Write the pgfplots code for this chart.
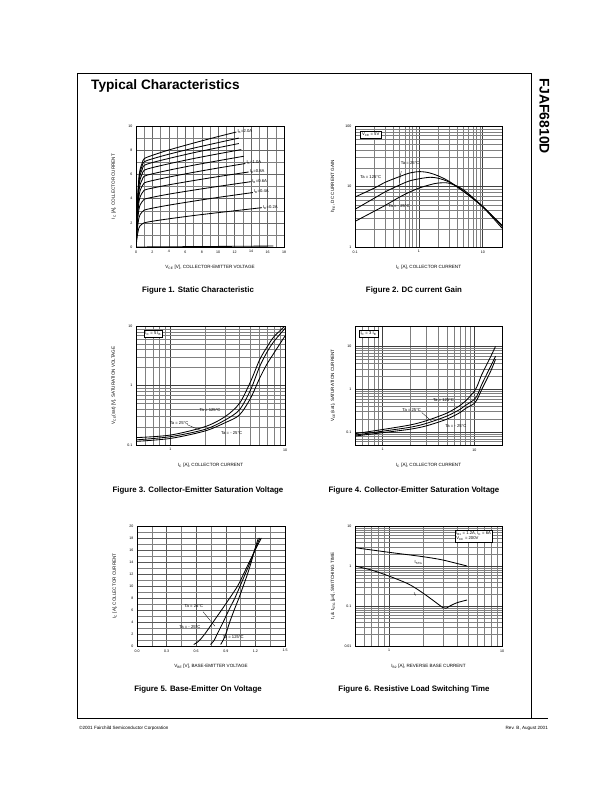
\documentclass[border=0pt]{standalone}
\usepackage{fontspec}
\setmainfont{Liberation Sans}
\usepackage{pgfplots}
\pgfplotsset{compat=1.18}

\newcommand\sub[1]{\textsubscript{#1}}
\newcommand\note{\fontsize{4.2}{5}\selectfont}
\pgfplotsset{
  sheet/.style={
    scale only axis, anchor=north west,
    axis line style={line width=0.9pt},
    grid=both,
    major grid style={line width=0.55pt, black!65},
    minor grid style={line width=0.4pt, black!50},
    major tick length=0pt, minor tick length=0pt,
    tick label style={font=\fontsize{3.6}{4}\selectfont},
    /pgf/number format/assume math mode=true,
    label style={font=\fontsize{4.6}{5}\selectfont},
    xlabel style={at={(axis description cs:0.5,-0.17)}, anchor=center},
    ylabel style={at={(axis description cs:-0.15,0.5)}, anchor=center},
    every axis plot post/.append style={black, solid, line width=0.85pt, mark=none, smooth},
  },
  logsheet/.style={sheet, log ticks with fixed point,
    major grid style={line width=0.75pt, black!75}},
}

\begin{document}
\begin{tikzpicture}
\path[fill=white, use as bounding box] (0,0) rectangle (612bp,-792bp);

% page frame and headings
\draw[line width=0.8pt] (77bp,-718bp) -- (77bp,-73bp) -- (531bp,-73bp) -- (531bp,-718bp);
\draw[line width=0.8pt] (77bp,-718bp) -- (548bp,-718bp);
\node[anchor=base west, font=\fontsize{13.7}{16}\selectfont\bfseries, inner sep=0] at (91bp,-89.5bp) {Typical Characteristics};
\node[rotate=-90, font=\fontsize{14}{16}\selectfont\bfseries, inner sep=0] at (544.5bp,-116bp) {FJAF6810D};
\node[anchor=base west, font=\fontsize{4.6}{5}\selectfont, inner sep=0] at (79bp,-729bp) {©2001 Fairchild Semiconductor Corporation};
\node[anchor=base east, font=\fontsize{4.6}{5}\selectfont, inner sep=0] at (548bp,-729bp) {Rev. B, August 2001};

\begin{scope}[every node/.style={font=\fontsize{7.9}{9}\selectfont\bfseries, inner sep=0}]
\node at (198bp,-290bp) {Figure 1. Static Characteristic};
\node at (414bp,-290bp) {Figure 2. DC current Gain};
\node at (198bp,-490bp) {Figure 3. Collector-Emitter Saturation Voltage};
\node at (414bp,-490bp) {Figure 4. Collector-Emitter Saturation Voltage};
\node at (198bp,-689bp) {Figure 5. Base-Emitter On Voltage};
\node at (414bp,-689bp) {Figure 6. Resistive Load Switching Time};
\end{scope}

% Figure 1
\begin{axis}[sheet, at={(136bp,-126bp)}, width=148bp, height=121bp,
  xmin=0, xmax=18, ymin=0, ymax=10,
  xtick distance=2, ytick distance=2, minor x tick num=1, minor y tick num=1,
  major grid style={line width=0.5pt, black!60},
  xlabel={V\sub{CE} [V], COLLECTOR-EMITTER VOLTAGE},
  ylabel={I\sub{C} [A], COLLECTOR CURRENT}]
\addplot coordinates {(0,0) (16.7,0.08)};
\addplot coordinates {(0,0) (0.1,0.6) (0.2,1.1) (0.35,1.56) (0.5,1.76) (0.75,1.9) (1,2.0) (2,2.13) (4,2.33) (7,2.6) (10,2.84) (15.3,3.25)};
\addplot coordinates {(0,0) (0.1,0.92) (0.2,1.68) (0.35,2.38) (0.5,2.68) (0.75,2.9) (1,3.05) (2,3.21) (4,3.46) (7,3.79) (10,4.1) (14.2,4.5)};
\addplot coordinates {(0,0) (0.1,1.19) (0.2,2.17) (0.35,3.08) (0.5,3.48) (0.75,3.75) (1,3.95) (2,4.11) (4,4.37) (7,4.7) (10,5.01) (14,5.4)};
\addplot coordinates {(0,0) (0.1,1.41) (0.2,2.59) (0.35,3.67) (0.5,4.14) (0.75,4.47) (1,4.7) (2,4.87) (4,5.14) (7,5.49) (10,5.82) (13.7,6.2)};
\addplot coordinates {(0,0) (0.1,1.59) (0.2,2.92) (0.35,4.13) (0.5,4.66) (0.75,5.04) (1,5.3) (2,5.49) (4,5.78) (7,6.17) (10,6.53) (13.3,6.9)};
\addplot coordinates {(0,0) (0.1,1.76) (0.2,3.22) (0.35,4.56) (0.5,5.15) (0.75,5.56) (1,5.85) (2,6.05) (4,6.35) (7,6.76) (10,7.13) (13.1,7.5)};
\addplot coordinates {(0,0) (0.1,1.91) (0.2,3.49) (0.35,4.95) (0.5,5.59) (0.75,6.03) (1,6.35) (2,6.56) (4,6.88) (7,7.31) (10,7.7) (12.8,8.05)};
\addplot coordinates {(0,0) (0.1,2.03) (0.2,3.71) (0.35,5.27) (0.5,5.94) (0.75,6.41) (1,6.75) (2,6.98) (4,7.32) (7,7.79) (10,8.21) (12.5,8.55)};
\addplot coordinates {(0,0) (0.1,2.12) (0.2,3.88) (0.35,5.5) (0.5,6.2) (0.75,6.7) (1,7.05) (2,7.29) (4,7.67) (7,8.17) (10,8.63) (12.5,9.0)};
\addplot coordinates {(0,0) (0.1,2.19) (0.2,4.02) (0.35,5.69) (0.5,6.42) (0.75,6.94) (1,7.3) (2,7.58) (4,8.02) (7,8.59) (10,9.13) (12.2,9.5)};
\begin{scope}[every node/.style={font=\note, anchor=west, inner sep=1pt}]
\node at (axis cs:12.2,9.55) {I\sub{B}=2.0A};
\node at (axis cs:13.3,6.95) {I\sub{B}=1.0A};
\node at (axis cs:13.7,6.25) {I\sub{B}=0.8A};
\node at (axis cs:14.0,5.45) {I\sub{B}=0.6A};
\node at (axis cs:14.2,4.55) {I\sub{B}=0.4A};
\node at (axis cs:15.3,3.3) {I\sub{B}=0.2A};
\end{scope}
\end{axis}

% Figure 2
\begin{loglogaxis}[logsheet, at={(355bp,-126bp)}, width=147bp, height=121bp,
  xmin=0.1, xmax=20, ymin=1, ymax=100,
  xlabel={I\sub{C} [A], COLLECTOR CURRENT},
  ylabel={h\sub{FE}, DC CURRENT GAIN}]
\addplot coordinates {(0.1,6.7) (0.2,9.4) (0.3,11.8) (0.5,14.6) (0.7,16.6) (1,17.6) (1.4,17.0) (2,15) (3,12.1) (5,8.3) (10,4.6) (20,2.3)};
\addplot coordinates {(0.1,4.2) (0.2,6.4) (0.3,8.2) (0.5,10.6) (0.7,12.3) (1,13.4) (1.5,14.2) (2,13.7) (3,11.8) (5,8.3) (10,4.7) (20,2.2)};
\addplot coordinates {(0.1,2.65) (0.2,3.9) (0.3,4.9) (0.5,6.7) (0.7,8.0) (1,9.4) (1.5,10.7) (2,11.4) (3,11.3) (5,8.8) (10,4.6) (20,2.05)};
\node[font=\note, draw, line width=0.3pt, fill=white, inner sep=1.5pt] at (rel axis cs:0.107,0.926) {V\sub{CE} = 5V};
\node[font=\note] at (rel axis cs:0.375,0.692) {Ta = 25°C};
\node[font=\note] at (rel axis cs:0.107,0.577) {Ta = 125°C};
\node[font=\note] at (rel axis cs:0.30,0.34) {Ta = - 25°C};
\draw[line width=0.3pt] (axis cs:0.53,18) -- (axis cs:0.49,11.4);
\end{loglogaxis}

% Figure 3
\begin{loglogaxis}[logsheet, at={(136bp,-326bp)}, width=149bp, height=119bp,
  xmin=0.5, xmax=10, ymin=0.1, ymax=10,
  xlabel={I\sub{C} [A], COLLECTOR CURRENT},
  ylabel={V\sub{CE}(sat) [V], SATURATION VOLTAGE}]
\addplot coordinates {(0.5,0.133) (1,0.147) (2,0.203) (3,0.30) (4,0.50) (5,1.16) (6,2.7) (7,4.5) (8,6.6) (10,10)};
\addplot coordinates {(0.5,0.122) (1,0.138) (2,0.183) (3,0.263) (4,0.39) (5,0.84) (6,2.07) (7,3.7) (8,5.5) (10,9.1)};
\addplot coordinates {(0.5,0.115) (1,0.129) (2,0.172) (3,0.237) (4,0.32) (5,0.61) (6,1.32) (7,2.34) (8,3.5) (10,6.8)};
\node[font=\note, draw, line width=0.3pt, fill=white, inner sep=1.5pt] at (rel axis cs:0.116,0.933) {I\sub{C} = 5 I\sub{B}};
\node[font=\note] at (rel axis cs:0.497,0.294) {Ta = 125°C};
\node[font=\note] at (rel axis cs:0.289,0.188) {Ta = 25°C};
\node[font=\note] at (rel axis cs:0.642,0.104) {Ta = - 25°C};
\draw[line width=0.3pt] (axis cs:1.4,0.22) -- (axis cs:1.8,0.178);
\end{loglogaxis}

% Figure 4
\begin{loglogaxis}[logsheet, at={(355bp,-326bp)}, width=147bp, height=119bp,
  xmin=0.5, xmax=20, ymin=0.05, ymax=30,
  xlabel={I\sub{C} [A], COLLECTOR CURRENT},
  ylabel={V\sub{CE}(sat), SATURATION CURRENT}]
\addplot coordinates {(0.5,0.092) (1,0.115) (2,0.147) (3,0.185) (5,0.277) (7,0.42) (8,0.53) (10,0.9) (11,1.35) (12,2.17) (15,5.7) (17,10)};
\addplot coordinates {(0.5,0.085) (1,0.105) (2,0.13) (3,0.16) (5,0.236) (7,0.342) (8,0.42) (10,0.58) (11,0.8) (12,1.28) (15,3.4) (17,5.9)};
\addplot coordinates {(0.5,0.081) (1,0.097) (2,0.117) (3,0.14) (5,0.2) (7,0.287) (8,0.355) (10,0.47) (11,0.65) (12,0.98) (15,2.6) (17,5.0)};
\node[font=\note, draw, line width=0.3pt, fill=white, inner sep=1.5pt] at (rel axis cs:0.091,0.933) {I\sub{C} = 3 I\sub{B}};
\node[font=\note] at (rel axis cs:0.602,0.378) {Ta = 125°C};
\node[font=\note] at (rel axis cs:0.386,0.294) {Ta = 25°C};
\node[font=\note] at (rel axis cs:0.686,0.16) {Ta = - 25°C};
\draw[line width=0.3pt] (axis cs:2.67,0.287) -- (axis cs:3.5,0.172);
\end{loglogaxis}

% Figure 5
\begin{axis}[sheet, at={(137bp,-526bp)}, width=148bp, height=120bp,
  xmin=0, xmax=1.5, ymin=0, ymax=20,
  xtick={0,0.3,0.6,0.9,1.2,1.5}, minor xtick={0.15,0.45,0.75,1.05,1.35},
  ytick distance=2, minor y tick num=1,
  xticklabel style={/pgf/number format/.cd, fixed, fixed zerofill, precision=1},
  xlabel={V\sub{BE} [V], BASE-EMITTER VOLTAGE},
  ylabel={I\sub{C} [A], COLLECTOR CURRENT}]
\addplot coordinates {(0.575,0.25) (0.625,0.8) (0.687,2) (0.772,4) (0.857,6) (0.94,8) (1.02,10) (1.08,12) (1.138,14) (1.198,16) (1.26,18)};
\addplot coordinates {(0.745,0.25) (0.78,0.9) (0.813,2) (0.874,4) (0.931,6) (0.992,8) (1.045,10) (1.097,12) (1.148,14) (1.195,16) (1.245,18)};
\addplot coordinates {(0.848,0.25) (0.874,1.0) (0.9,2) (0.94,4) (0.985,6) (1.033,8) (1.077,10) (1.12,12) (1.158,14) (1.192,16) (1.23,18)};
\node[font=\note] at (rel axis cs:0.384,0.333) {Ta = 25°C};
\node[font=\note] at (rel axis cs:0.357,0.16) {Ta = - 25°C};
\node[font=\note] at (rel axis cs:0.65,0.076) {Ta = 125°C};
\draw[line width=0.3pt] (axis cs:0.67,5.7) -- (axis cs:0.79,3.3);
\end{axis}

% Figure 6
\begin{loglogaxis}[logsheet, at={(355bp,-526bp)}, width=147bp, height=120bp,
  xmin=0.5, xmax=10, ymin=0.01, ymax=10,
  xlabel={I\sub{B2} [A], REVERSE BASE CURRENT},
  ylabel={t\sub{f} \& t\sub{STG} [µs], SWITCHING TIME}]
\addplot coordinates {(0.5,2.87) (1,2.2) (2,1.71) (3,1.41) (4.9,1.0)};
\addplot coordinates {(0.5,1.0) (0.7,0.79) (1,0.56) (1.5,0.35) (2,0.21) (2.5,0.133) (3,0.091) (3.2,0.088) (3.5,0.102) (4,0.121) (4.9,0.141)};
\node[font=\note, draw, line width=0.3pt, fill=white, inner sep=1.5pt, align=left] at (rel axis cs:0.807,0.919) {I\sub{B1} = 1.2A, I\sub{C} = 6A\\V\sub{CC} = 200V};
\node[font=\note] at (rel axis cs:0.432,0.697) {t\sub{STG}};
\node[font=\note] at (rel axis cs:0.409,0.425) {t\sub{f}};
\end{loglogaxis}
\end{tikzpicture}
\end{document}
